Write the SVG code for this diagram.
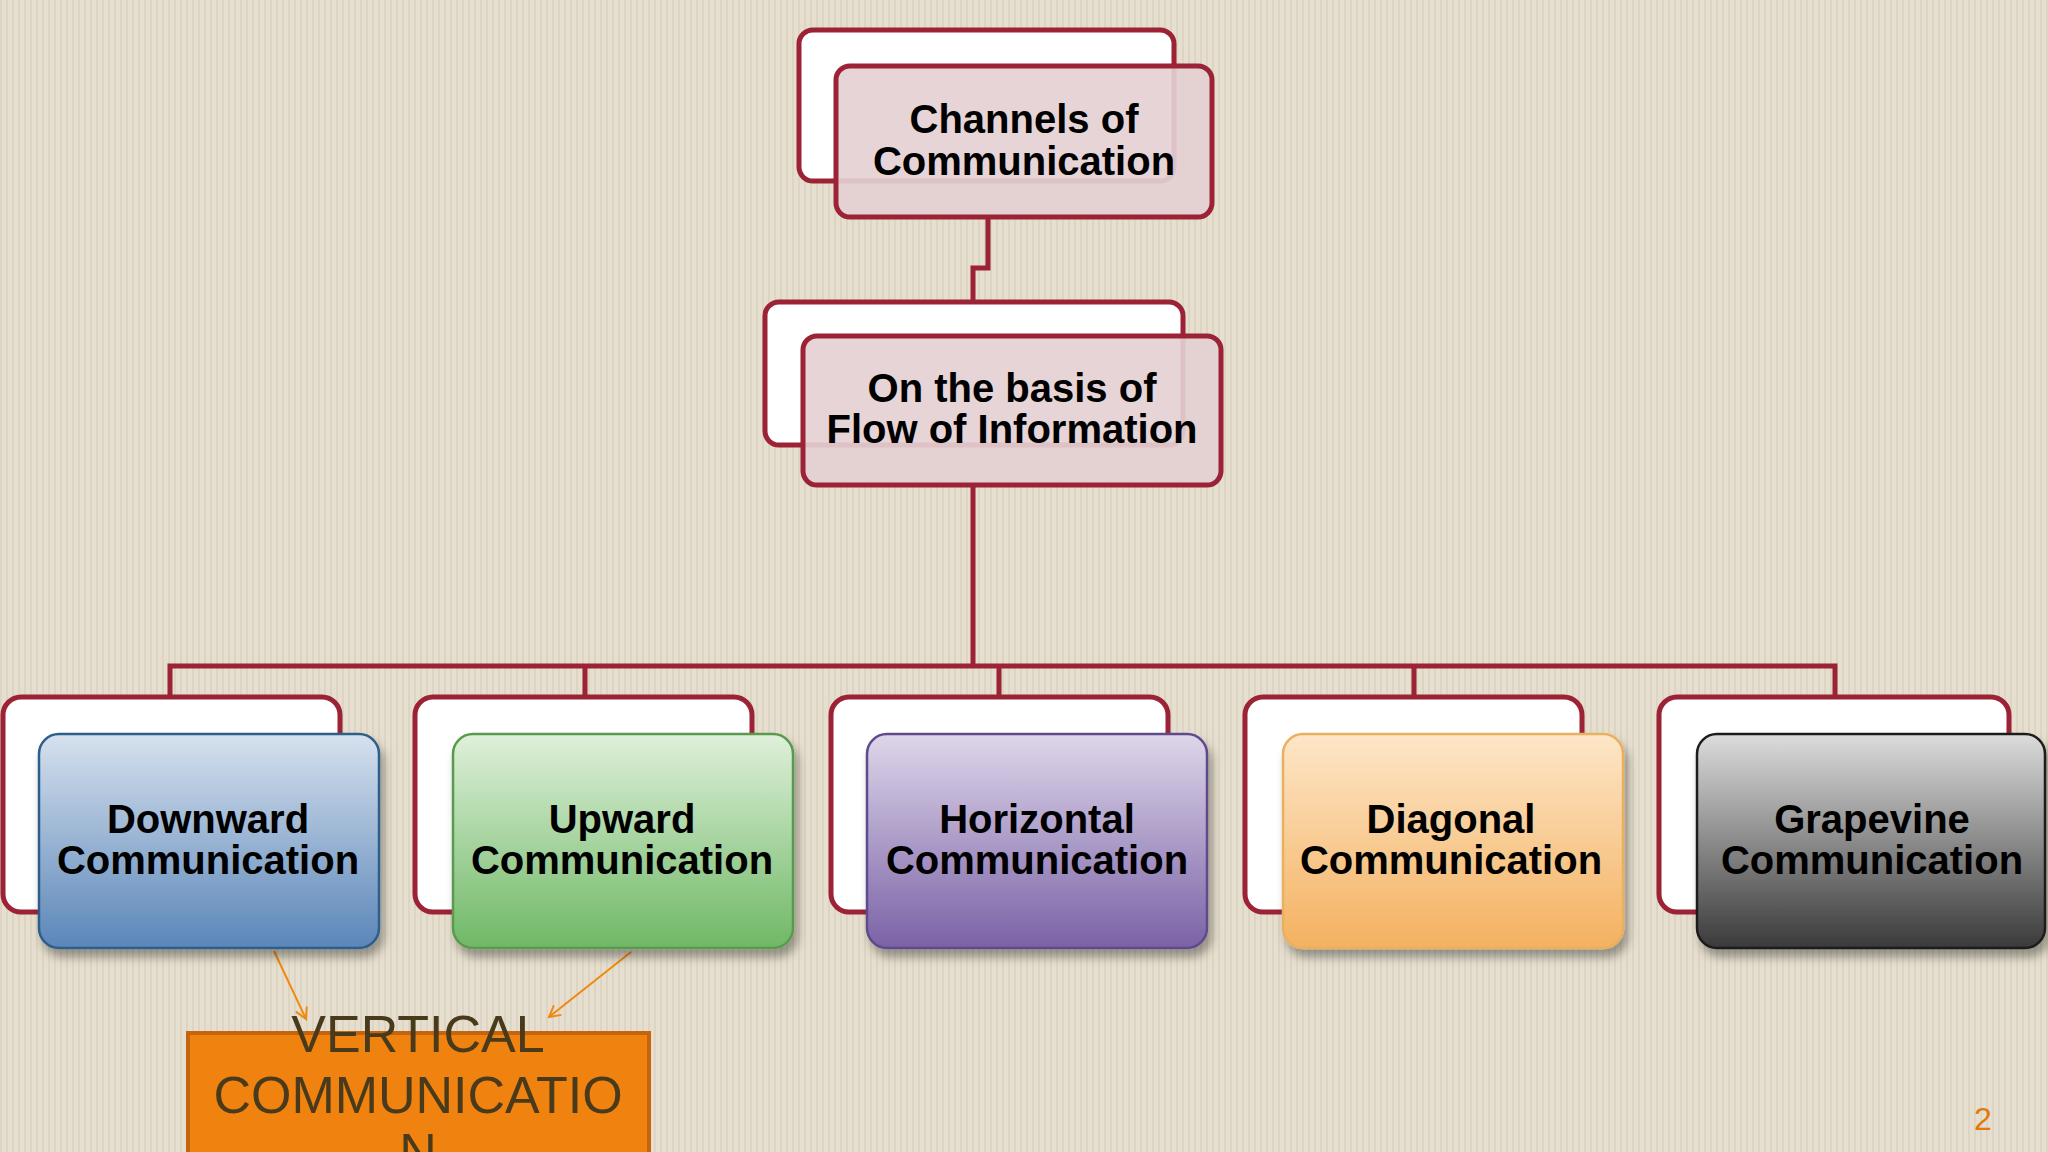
<svg xmlns="http://www.w3.org/2000/svg" width="2048" height="1152" viewBox="0 0 2048 1152">
<defs>
<pattern id="bg" width="6" height="6" patternUnits="userSpaceOnUse"><rect width="6" height="6" fill="#e6dfcf"/><rect width="2" height="6" fill="#ddd5c3"/></pattern>
<filter id="sh" x="-10%" y="-10%" width="125%" height="130%"><feDropShadow dx="4" dy="8" stdDeviation="5" flood-color="#000" flood-opacity="0.35"/></filter>
<linearGradient id="gb" x1="0" y1="0" x2="0" y2="1"><stop offset="0" stop-color="#d6e1ee"/><stop offset="1" stop-color="#5b86b8"/></linearGradient>
<linearGradient id="gg" x1="0" y1="0" x2="0" y2="1"><stop offset="0" stop-color="#dff0da"/><stop offset="1" stop-color="#6fb866"/></linearGradient>
<linearGradient id="gp" x1="0" y1="0" x2="0" y2="1"><stop offset="0" stop-color="#ded6ea"/><stop offset="1" stop-color="#7a62a6"/></linearGradient>
<linearGradient id="go" x1="0" y1="0" x2="0" y2="1"><stop offset="0" stop-color="#fde6c8"/><stop offset="1" stop-color="#f4b160"/></linearGradient>
<linearGradient id="gk" x1="0" y1="0" x2="0" y2="1"><stop offset="0" stop-color="#dcdcdc"/><stop offset="1" stop-color="#3a3a3a"/></linearGradient>
<marker id="ar" markerWidth="14" markerHeight="14" refX="12" refY="7" orient="auto" markerUnits="userSpaceOnUse"><path d="M1,1 L12,7 L1,13" fill="none" stroke="#f0890f" stroke-width="2"/></marker>
<style>
.back{fill:#fff;stroke:#9b2335;stroke-width:5}
.top{fill:#e4d0d3;fill-opacity:0.92;stroke:#9b2335;stroke-width:5}
.con{fill:none;stroke:#9b2335;stroke-width:5}
.t{font-family:"Liberation Sans",Arial,sans-serif;font-weight:bold;font-size:40px;fill:#000;text-anchor:middle}
.v{font-family:"Liberation Sans",Arial,sans-serif;font-size:52px;fill:#4a3a1c;text-anchor:middle}
</style>
</defs>
<rect width="2048" height="1152" fill="url(#bg)"/>
<g id="connectors">
<path class="con" d="M988,217 V268 H973 V302"/>
<path class="con" d="M973,485 V666"/>
<path class="con" d="M170,697 V666 H1835 V697 M585,666 V697 M999,666 V697 M1414,666 V697"/>
<path d="M274,951 L306,1019" stroke="#f0890f" stroke-width="2" marker-end="url(#ar)"/>
<path d="M631,952 L549,1017" stroke="#f0890f" stroke-width="2" marker-end="url(#ar)"/>
</g>
<g id="n-channels">
<rect class="back" x="799" y="30" width="375" height="151" rx="14"/>
<rect class="top" x="836" y="66" width="376" height="151" rx="14"/>
<text class="t" x="1024" y="133">Channels of</text>
<text class="t" x="1024" y="175">Communication</text>
</g>
<g id="n-basis">
<rect class="back" x="765" y="302" width="418" height="143" rx="14"/>
<rect class="top" x="803" y="336" width="418" height="149" rx="14"/>
<text class="t" x="1012" y="402">On the basis of</text>
<text class="t" x="1012" y="443">Flow of Information</text>
</g>
<g id="n-down">
<rect class="back" x="3" y="697" width="337" height="215" rx="18"/>
<rect x="39" y="734" width="340" height="214" rx="20" fill="url(#gb)" stroke="#2e5f8a" stroke-width="2.5" filter="url(#sh)"/>
<text class="t" x="208" y="833">Downward</text><text class="t" x="208" y="874">Communication</text>
</g>
<g id="n-up">
<rect class="back" x="415" y="697" width="337" height="215" rx="18"/>
<rect x="453" y="734" width="340" height="214" rx="20" fill="url(#gg)" stroke="#5a9a4f" stroke-width="2.5" filter="url(#sh)"/>
<text class="t" x="622" y="833">Upward</text><text class="t" x="622" y="874">Communication</text>
</g>
<g id="n-horiz">
<rect class="back" x="831" y="697" width="337" height="215" rx="18"/>
<rect x="867" y="734" width="340" height="214" rx="20" fill="url(#gp)" stroke="#5e4c8c" stroke-width="2.5" filter="url(#sh)"/>
<text class="t" x="1037" y="833">Horizontal</text><text class="t" x="1037" y="874">Communication</text>
</g>
<g id="n-diag">
<rect class="back" x="1245" y="697" width="337" height="215" rx="18"/>
<rect x="1283" y="734" width="340" height="214" rx="20" fill="url(#go)" stroke="#e8b060" stroke-width="2.5" filter="url(#sh)"/>
<text class="t" x="1451" y="833">Diagonal</text><text class="t" x="1451" y="874">Communication</text>
</g>
<g id="n-grape">
<rect class="back" x="1659" y="697" width="350" height="215" rx="18"/>
<rect x="1697" y="734" width="348" height="214" rx="20" fill="url(#gk)" stroke="#1e1e1e" stroke-width="2.5" filter="url(#sh)"/>
<text class="t" x="1872" y="833">Grapevine</text><text class="t" x="1872" y="874">Communication</text>
</g>
<g id="n-vertical">
<rect x="188" y="1033" width="461" height="130" fill="#f0830f" stroke="#c4650e" stroke-width="4"/>
<text class="v" x="418" y="1052">VERTICAL</text>
<text class="v" x="418" y="1113">COMMUNICATIO</text>
<text class="v" x="418" y="1170">N</text>
</g>
<text x="1983" y="1130" font-family="Liberation Sans,Arial,sans-serif" font-size="32" fill="#e07a10" text-anchor="middle">2</text>
</svg>
